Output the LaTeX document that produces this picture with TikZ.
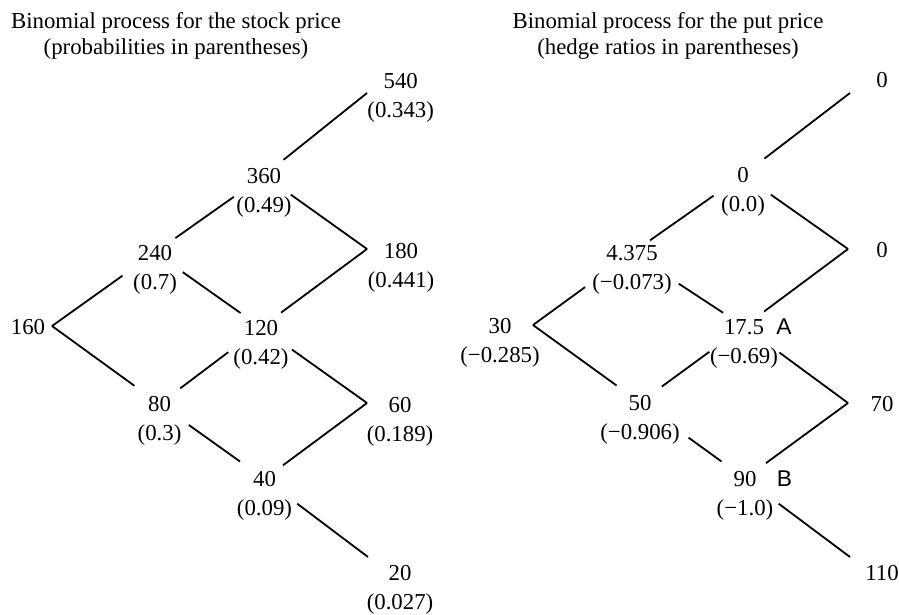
\documentclass[tikz,border=0pt]{standalone}
\usepackage{fontspec}
\setmainfont{Liberation Serif}
\newfontfamily\tagfont{Liberation Sans}
\usetikzlibrary{positioning}
\tikzset{
  val/.style={inner sep=1pt, text height=15.4pt, text depth=0pt},
  prob/.style={val, below=11.1pt of #1},
  tag/.style={val, font=\tagfont\fontsize{22.8}{26}\selectfont},
  heading/.style={align=center, anchor=north, inner sep=0pt},
  branch/.style={line width=1.8pt}
}

\begin{document}
\begin{tikzpicture}[x=1pt, y=-1pt, font=\fontsize{22.8}{26}\selectfont]
        \useasboundingbox (0,0) rectangle (899,615);

        % Headings
        \node[heading] (hstock) at (176,12.4) {Binomial process for the stock price\\(probabilities in parentheses)};
        \node[heading] (hput)   at (668,12.4) {Binomial process for the put price\\(hedge ratios in parentheses)};

        % Stock price tree
        \coordinate (v160) at (52,326);
        \coordinate (v540) at (367,93);
        \coordinate (v180) at (367,249);
        \coordinate (v60)  at (367,403);
        \coordinate (v20)  at (368,557);

        \node[val] (s160) at (28,326.5) {160};
        \node[val] (s240) at (155,252.5) {240};
        \node[prob=s240] (q240) {(0.7)};
        \node[val] (s80)  at (159.5,404) {80};
        \node[prob=s80] (q80) {(0.3)};
        \node[val] (s360) at (264,175.5) {360};
        \node[prob=s360] (q360) {(0.49)};
        \node[val] (s120) at (261,327.5) {120};
        \node[prob=s120] (q120) {(0.42)};
        \node[val] (s40)  at (264.5,479) {40};
        \node[prob=s40] (q40) {(0.09)};
        \node[val] (s540) at (400.7,81) {540};
        \node[prob=s540] (q540) {(0.343)};
        \node[val] (s180) at (401,251) {180};
        \node[prob=s180] (q180) {(0.441)};
        \node[val] (s60)  at (400,404.5) {60};
        \node[prob=s60] (q60) {(0.189)};
        \node[val] (s20)  at (400,573) {20};
        \node[prob=s20] (q20) {(0.027)};

        \draw[branch, shorten >=40pt] (v160) -- (s240.center);
        \draw[branch, shorten >=31pt] (v160) -- (s80.center);
        \draw[branch, shorten <=25pt, shorten >=37pt] (s240.center) -- (s360.center);
        \draw[branch, shorten <=34pt, shorten >=25pt] (s240.center) -- (s120.center);
        \draw[branch, shorten <=26pt, shorten >=41pt] (s80.center) -- (s120.center);
        \draw[branch, shorten <=36pt, shorten >=30pt] (s80.center) -- (s40.center);
        \draw[branch, shorten <=25pt] (s360.center) -- (v540);
        \draw[branch, shorten <=33pt] (s360.center) -- (v180);
        \draw[branch, shorten <=25pt] (s120.center) -- (v180);
        \draw[branch, shorten <=38pt] (s120.center) -- (v60);
        \draw[branch, shorten <=23pt] (s40.center) -- (v60);
        \draw[branch, shorten <=41pt] (s40.center) -- (v20);

        % Put price tree
        \coordinate (v30)  at (533,325);
        \coordinate (v0uu) at (850,93);
        \coordinate (v0ud) at (848,249);
        \coordinate (v70)  at (848,403);
        \coordinate (v110) at (850,557);

        \node[val] (p30)   at (500,326) {30};
        \node[prob=p30] (r30) {(−0.285)};
        \node[val] (p4375) at (632,253) {4.375};
        \node[prob=p4375] (r4375) {(−0.073)};
        \node[val] (p50)   at (640,402.5) {50};
        \node[prob=p50] (r50) {(−0.906)};
        \node[val] (p0)    at (743,175) {0};
        \node[prob=p0] (r0) {(0.0)};
        \node[val] (p175)  at (744,326.5) {17.5};
        \node[prob=p175] (r175) {(−0.69)};
        \node[tag, right=10pt of p175] (tagA) {A};
        \node[val] (p90)   at (745,478.5) {90};
        \node[prob=p90] (r90) {(−1.0)};
        \node[tag, right=18pt of p90] (tagB) {B};
        \node[val] (p0uu)  at (882,80) {0};
        \node[val] (p0ud)  at (882,250) {0};
        \node[val] (p70)   at (882,403.5) {70};
        \node[val] (p110)  at (882,572.5) {110};

        \draw[branch, shorten >=58pt] (v30) -- (p4375.center);
        \draw[branch, shorten >=29pt] (v30) -- (p50.center);
        \draw[branch, shorten <=22pt, shorten >=36pt] (p4375.center) -- (p0.center);
        \draw[branch, shorten <=56pt, shorten >=25pt] (p4375.center) -- (p175.center);
        \draw[branch, shorten <=27pt, shorten >=43pt] (p50.center) -- (p175.center);
        \draw[branch, shorten <=60pt, shorten >=29pt] (p50.center) -- (p90.center);
        \draw[branch, shorten <=27pt] (p0.center) -- (v0uu);
        \draw[branch, shorten <=34pt] (p0.center) -- (v0ud);
        \draw[branch, shorten <=25pt] (p175.center) -- (v0ud);
        \draw[branch, shorten <=44pt] (p175.center) -- (v70);
        \draw[branch, shorten <=26pt] (p90.center) -- (v70);
        \draw[branch, shorten <=42pt] (p90.center) -- (v110);
\end{tikzpicture}
\end{document}
